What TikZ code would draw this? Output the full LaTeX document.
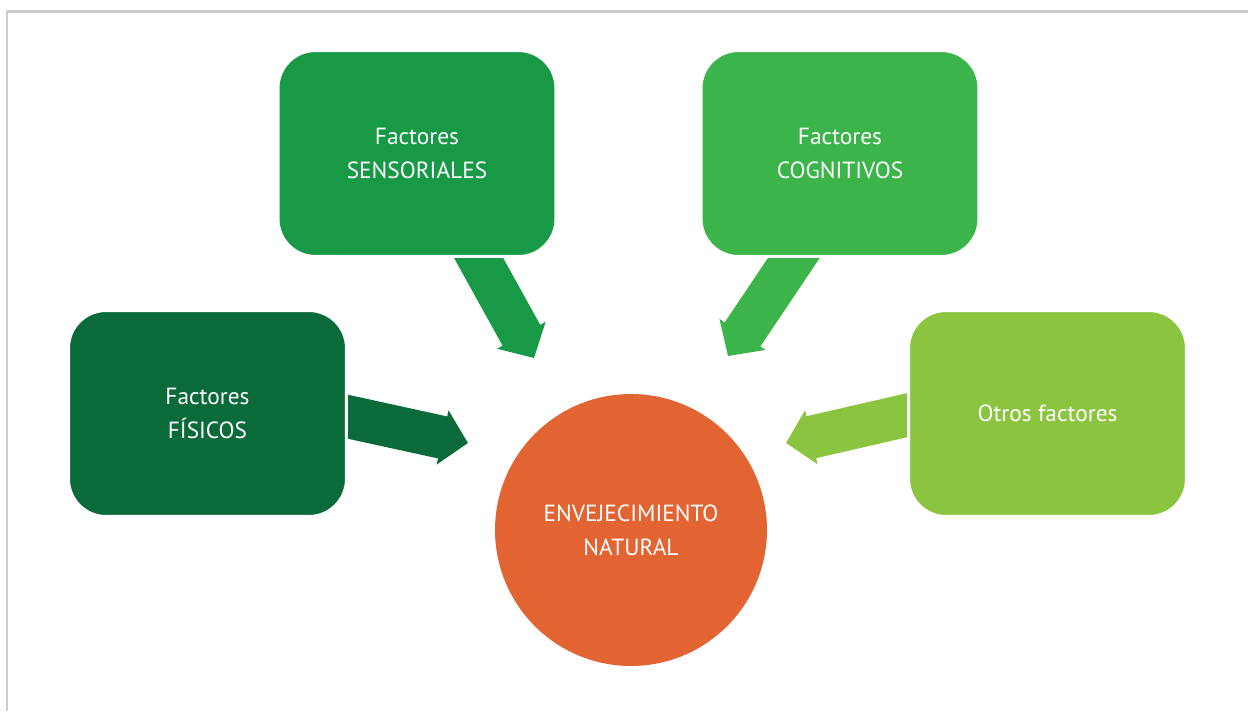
\documentclass[tikz,border=0pt]{standalone}
\usepackage{fontspec}
\setmainfont{PT Sans}
\usepackage{tikz}
\usetikzlibrary{arrows.meta}

\definecolor{fisgreen}{HTML}{0A6A3A}
\definecolor{sengreen}{HTML}{179946}
\definecolor{coggreen}{HTML}{3BB44A}
\definecolor{otrgreen}{HTML}{8BC540}
\definecolor{envorange}{HTML}{E36433}
\definecolor{framegray}{HTML}{CCCCCC}

\tikzset{
    factorbox/.style={rectangle, rounded corners=0.75cm, minimum width=5.56cm, minimum height=4.12cm,
        draw=white, line width=0.06cm, text=white, align=center, inner sep=0pt,
        font=\fontsize{13.3}{19.5}\selectfont},
    bigarrow/.style={line width=0.86cm, -{Triangle[length=0.52cm, width=1.08cm]}}
}

\begin{document}
\begin{tikzpicture}[x=0.02cm, y=-0.02cm]
    \useasboundingbox (0,0) rectangle (1248,711);
    \draw[framegray, line width=0.06cm] (1248,11) -- (7,11) -- (7,711);

    \coordinate (fisTail) at (308,408);
    \coordinate (fisTip) at (468,443);
    \coordinate (senTail) at (457,219);
    \coordinate (senTip) at (534,358);
    \coordinate (cogTail) at (818,222);
    \coordinate (cogTip) at (728,356);
    \coordinate (otrTail) at (947,406);
    \coordinate (otrTip) at (786,443);

    \draw[bigarrow, fisgreen] (fisTail) -- (fisTip);
    \draw[bigarrow, sengreen] (senTail) -- (senTip);
    \draw[bigarrow, coggreen] (cogTail) -- (cogTip);
    \draw[bigarrow, otrgreen] (otrTail) -- (otrTip);

    \node[factorbox, fill=fisgreen] (fis) at (207.5,413.5) {Factores\\FÍSICOS};
    \node[factorbox, fill=sengreen] (sen) at (417,153.5) {Factores\\SENSORIALES};
    \node[factorbox, fill=coggreen] (cog) at (840,153.5) {Factores\\COGNITIVOS};
    \node[factorbox, fill=otrgreen] (otr) at (1047.5,413.5) {Otros factores};

    \node[circle, fill=envorange, minimum size=5.44cm, inner sep=0pt, text=white, align=center,
        font=\fontsize{13.3}{19.5}\selectfont] (env) at (631,530) {ENVEJECIMIENTO\\NATURAL};
\end{tikzpicture}
\end{document}
